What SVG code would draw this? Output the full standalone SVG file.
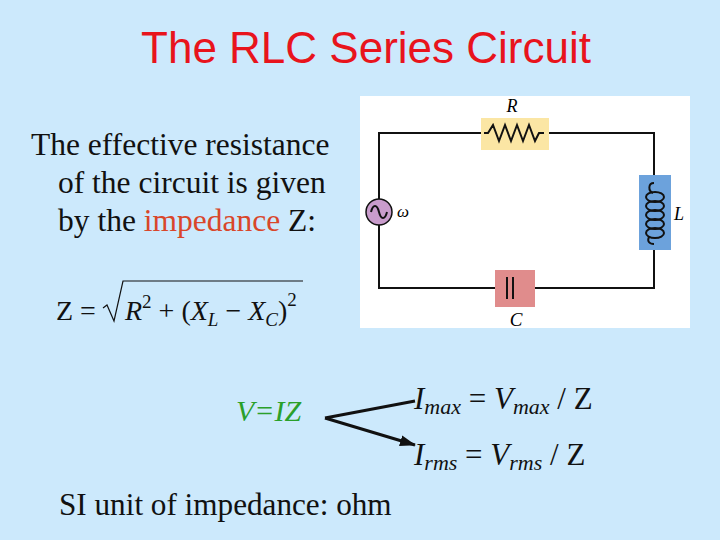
<svg xmlns="http://www.w3.org/2000/svg" width="720" height="540" viewBox="0 0 720 540">
<style>
.t{font-family:"Liberation Serif",serif;}
.w{fill:none;stroke:#111;stroke-width:2}
.coil{fill:none;stroke:#111;stroke-width:2}
</style>
<defs><marker id="ah" markerWidth="16" markerHeight="11" refX="15" refY="5.5" orient="auto" markerUnits="userSpaceOnUse"><path d="M0,0L16,5.5L0,11z" fill="#111"/></marker></defs>
<rect width="720" height="540" fill="#cce9fc"/>
<text x="366" y="63" text-anchor="middle" font-family="Liberation Sans,sans-serif" font-size="44" fill="#e8141c">The RLC Series Circuit</text>
<g id="desc" class="t" font-size="31.5" fill="#111">
<text x="31" y="155">The effective resistance</text>
<text x="58" y="193">of the circuit is given</text>
<text x="58" y="231">by the <tspan fill="#d9462a">impedance</tspan> Z:</text>
</g>
<g id="formula" class="t" font-size="28" fill="#111">
<text x="56" y="320">Z = </text>
<path d="M103,308 l4,-3 l7,16 l9,-40 h180" fill="none" stroke="#111" stroke-width="1.2"/>
<text x="125" y="320"><tspan font-style="italic">R</tspan><tspan font-size="19" dy="-12">2</tspan><tspan dy="12"> + (</tspan><tspan font-style="italic">X</tspan><tspan font-size="19" font-style="italic" dy="6">L</tspan><tspan dy="-6"> − </tspan><tspan font-style="italic">X</tspan><tspan font-size="19" font-style="italic" dy="6">C</tspan><tspan dy="-6">)</tspan><tspan font-size="19" dy="-14">2</tspan></text>
</g>
<g id="circuit">
<rect x="360" y="96" width="330" height="232" fill="#fff"/>
<path class="w" d="M379,199V133H484M546,133H654V183M654,244V288H513M507,288H379V225"/>
<g id="R"><rect x="481" y="118" width="68" height="32" fill="#fbe6a4"/>
<path class="w" stroke-width="2.5" d="M484,133l4,0l5,-8l6,16l6,-16l6,16l6,-16l6,16l6,-16l6,16l4,-8h5"/>
<text x="512" y="112" text-anchor="middle" class="t" font-style="italic" font-size="18">R</text></g>
<g id="src"><circle cx="379" cy="212" r="13" fill="#c99ccc" stroke="#111" stroke-width="1.5"/>
<path d="M371,212c2,-8 6,-8 8,0s6,8 8,0" fill="none" stroke="#111" stroke-width="2"/>
<text x="397" y="217" class="t" font-style="italic" font-size="17">ω</text></g>
<g id="L"><rect x="639" y="175" width="32" height="75" fill="#6ca2dc"/>
<path class="coil" d="M654,183c-6,0 -6,8 -1,10"/>
<ellipse class="coil" cx="655" cy="197" rx="9" ry="5"/>
<ellipse class="coil" cx="655" cy="206" rx="9" ry="5"/>
<ellipse class="coil" cx="655" cy="215" rx="9" ry="5"/>
<ellipse class="coil" cx="655" cy="224" rx="9" ry="5"/>
<ellipse class="coil" cx="655" cy="233" rx="9" ry="5"/>
<path class="coil" d="M649,237c-2,4 0,7 5,7"/>
<text x="674" y="220" class="t" font-style="italic" font-size="18">L</text></g>
<g id="C"><rect x="495" y="270" width="40" height="37" fill="#e08c8c"/>
<path class="w" stroke-width="2.5" d="M507,277v22M513,277v22"/>
<text x="516" y="326" text-anchor="middle" class="t" font-style="italic" font-size="19">C</text></g>
</g>
<g id="vi"><text x="236" y="421" class="t" font-style="italic" font-size="30" fill="#2aa02a">V=IZ</text></g>
<g id="connectors"><path d="M325,418L415,401M325,418L415,445" stroke="#111" stroke-width="3" fill="none" marker-end="url(#ah)"/></g>
<g id="imax" class="t" font-size="31" fill="#111"><text x="414" y="409"><tspan font-style="italic">I</tspan><tspan font-style="italic" font-size="22" dy="5">max</tspan><tspan dy="-5"> = </tspan><tspan font-style="italic">V</tspan><tspan font-style="italic" font-size="22" dy="5">max</tspan><tspan dy="-5"> / Z</tspan></text></g>
<g id="irms" class="t" font-size="31" fill="#111"><text x="414" y="465"><tspan font-style="italic">I</tspan><tspan font-style="italic" font-size="22" dy="5">rms</tspan><tspan dy="-5"> = </tspan><tspan font-style="italic">V</tspan><tspan font-style="italic" font-size="22" dy="5">rms</tspan><tspan dy="-5"> / Z</tspan></text></g>
<text x="59" y="515" class="t" font-size="31.2" fill="#111">SI unit of impedance: ohm</text>
</svg>
